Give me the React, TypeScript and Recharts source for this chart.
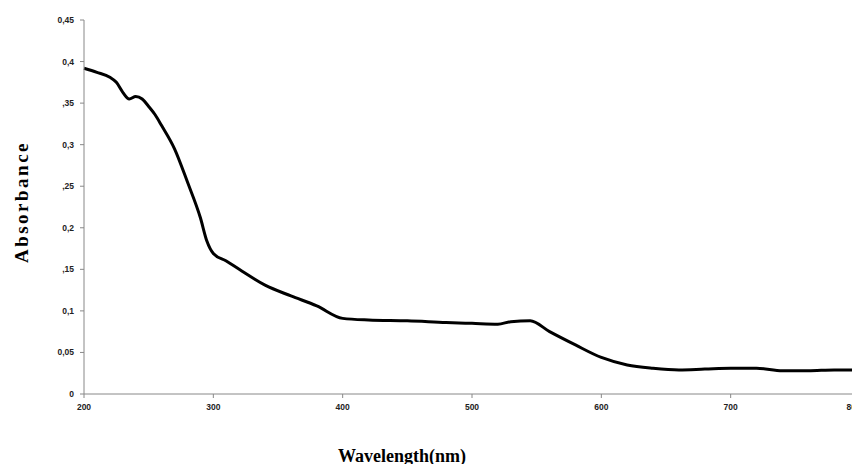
import { LineChart, Line, XAxis, YAxis } from 'recharts';

const wavelengths = [
  200, 210, 220, 225, 230, 235, 240, 245, 250, 255, 260, 270, 280, 290, 295, 300, 310, 320, 340,
  360, 380, 400, 420, 450, 480, 500, 520, 530, 545, 560, 580, 600, 620, 640, 660, 680, 700, 720,
  740, 760, 780, 800,
];
const absorbance = [
  0.392, 0.387, 0.381, 0.375, 0.363, 0.355, 0.358, 0.355, 0.346, 0.336, 0.323, 0.295, 0.255, 0.212,
  0.184, 0.169, 0.16, 0.15, 0.131, 0.118, 0.106, 0.091, 0.089, 0.088, 0.086, 0.085, 0.084, 0.087,
  0.088, 0.075, 0.059, 0.044, 0.035, 0.031, 0.029, 0.03, 0.031, 0.031, 0.028, 0.028, 0.029, 0.029,
];
const xTicks = [200, 300, 400, 500, 600, 700, 800];
const yTicks = [0, 0.05, 0.1, 0.15, 0.2, 0.25, 0.3, 0.35, 0.4, 0.45];
const yTickLabels = ['0', '0,05', '0,1', ',15', '0,2', ',25', '0,3', ',35', '0,4', '0,45'];

const data = wavelengths.map((w, i) => ({ w, a: absorbance[i] }));

const tickStyle = { fontSize: 8.5, fontWeight: 700, fill: '#222', fontFamily: 'Liberation Sans, Arial, sans-serif' };

export default function App() {
  return (
    <div style={{ position: 'relative', width: 852, height: 456, background: '#fff' }}>
      <LineChart width={852} height={456} data={data} margin={{ top: 12, right: 0, left: 16, bottom: 40 }}>
        <XAxis
          dataKey="w"
          type="number"
          domain={[200, 800]}
          ticks={xTicks}
          tick={tickStyle}
          stroke="#888"
          tickSize={4}
          tickMargin={6}
          height={30}
        />
        <YAxis
          type="number"
          domain={[0, 0.45]}
          ticks={yTicks}
          tick={tickStyle}
          tickFormatter={(v: number) => yTickLabels[yTicks.findIndex((t) => Math.abs(t - v) < 1e-6)] ?? ''}
          stroke="#888"
          tickSize={4}
          tickMargin={6}
          width={60}
        />
        <Line type="monotone" dataKey="a" stroke="#000" strokeWidth={3} dot={false} isAnimationActive={false} />
      </LineChart>
      <div
        style={{
          position: 'absolute',
          left: 14,
          top: 194,
          transform: 'translate(-50%, -50%) rotate(-90deg)',
          fontFamily: 'Liberation Serif, Times New Roman, serif',
          fontWeight: 700,
          fontSize: 19,
          letterSpacing: 2.5,
          whiteSpace: 'nowrap',
        }}
      >
        Absorbance
      </div>
      <div
        style={{
          position: 'absolute',
          left: 394,
          top: 448,
          transform: 'translate(-50%, -50%)',
          fontFamily: 'Liberation Serif, Times New Roman, serif',
          fontWeight: 700,
          fontSize: 18,
          whiteSpace: 'nowrap',
        }}
      >
        Wavelength(nm)
      </div>
    </div>
  );
}
